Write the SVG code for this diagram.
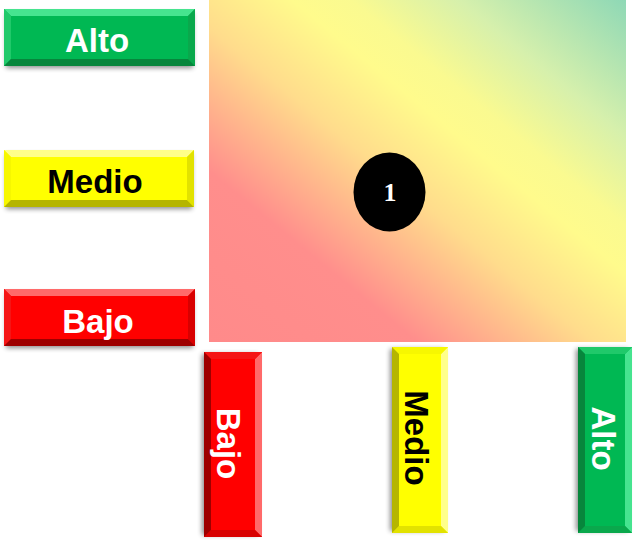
<svg xmlns="http://www.w3.org/2000/svg" width="634" height="544" viewBox="0 0 634 544">
<defs>
<linearGradient id="bg" x1="0" y1="1" x2="1" y2="0">
<stop offset="0" stop-color="#ff8a8a"/>
<stop offset="0.25" stop-color="#ff8e8c"/>
<stop offset="0.46" stop-color="#ffdc8c"/>
<stop offset="0.6" stop-color="#fffb8c"/>
<stop offset="0.67" stop-color="#fafa90"/>
<stop offset="0.8" stop-color="#d6f0ac"/>
<stop offset="1" stop-color="#8ed8b6"/>
</linearGradient>
<filter id="sh" x="-10%" y="-20%" width="120%" height="150%">
<feGaussianBlur stdDeviation="2.5"/>
</filter>
</defs>
<style>
.lbl{font-family:"Liberation Sans",Arial,sans-serif;font-weight:bold;font-size:33px;text-anchor:middle}
.w{fill:#ffffff}
.k{fill:#000000}
.shadow{fill:#000;opacity:0.45;filter:url(#sh)}
.g0{fill:#00b853}.g1{fill:#46e48f}.g2{fill:#20c96a}.g3{fill:#0aa84c}.g4{fill:#07863c}
.y0{fill:#ffff00}.y1{fill:#ffff8a}.y2{fill:#f7f700}.y3{fill:#e2e200}.y4{fill:#b5b500}
.r0{fill:#ff0000}.r1{fill:#ff6a6a}.r2{fill:#f51515}.r3{fill:#d80000}.r4{fill:#9e0000}
</style>

<rect x="209" y="0" width="417" height="342" fill="url(#bg)"/>

<g id="point-1">
<ellipse cx="389.5" cy="192" rx="36" ry="39.5" fill="#000"/>
<text x="390" y="201" style="font-family:'Liberation Serif','Times New Roman',serif;font-weight:bold;font-size:26px;text-anchor:middle" fill="#fff">1</text>
</g>

<g id="y-alto" transform="translate(4,9)">
<rect class="shadow" x="2" y="4" width="187" height="55"/>
<rect class="g0" width="191" height="57"/>
<polygon class="g1" points="0,0 191,0 184,7 7,7"/>
<polygon class="g2" points="0,0 7,7 7,50 0,57"/>
<polygon class="g3" points="191,0 191,57 184,50 184,7"/>
<polygon class="g4" points="0,57 7,50 184,50 191,57"/>
<text class="lbl w" x="93" y="43">Alto</text>
</g>

<g id="y-medio" transform="translate(4,150)">
<rect class="shadow" x="2" y="4" width="186" height="55"/>
<rect class="y0" width="190" height="57"/>
<polygon class="y1" points="0,0 190,0 183,7 7,7"/>
<polygon class="y2" points="0,0 7,7 7,50 0,57"/>
<polygon class="y3" points="190,0 190,57 183,50 183,7"/>
<polygon class="y4" points="0,57 7,50 183,50 190,57"/>
<text class="lbl k" x="91" y="43">Medio</text>
</g>

<g id="y-bajo" transform="translate(4,289)">
<rect class="shadow" x="2" y="4" width="187" height="55"/>
<rect class="r0" width="191" height="57"/>
<polygon class="r1" points="0,0 191,0 184,7 7,7"/>
<polygon class="r2" points="0,0 7,7 7,50 0,57"/>
<polygon class="r3" points="191,0 191,57 184,50 184,7"/>
<polygon class="r4" points="0,57 7,50 184,50 191,57"/>
<text class="lbl w" x="94" y="44">Bajo</text>
</g>

<g id="x-bajo" transform="translate(262,352) rotate(90)">
<rect class="shadow" x="2" y="4" width="181" height="56"/>
<rect class="r0" width="185" height="58"/>
<polygon class="r1" points="0,0 185,0 178,7 7,7"/>
<polygon class="r2" points="0,0 7,7 7,51 0,58"/>
<polygon class="r3" points="185,0 185,58 178,51 178,7"/>
<polygon class="r4" points="0,58 7,51 178,51 185,58"/>
<text class="lbl w" x="91.5" y="45">Bajo</text>
</g>

<g id="x-medio" transform="translate(448,347) rotate(90)">
<rect class="shadow" x="2" y="4" width="182" height="54"/>
<rect class="y0" width="186" height="56"/>
<polygon class="y1" points="0,0 186,0 179,7 7,7"/>
<polygon class="y2" points="0,0 7,7 7,49 0,56"/>
<polygon class="y3" points="186,0 186,56 179,49 179,7"/>
<polygon class="y4" points="0,56 7,49 179,49 186,56"/>
<text class="lbl k" x="91" y="43">Medio</text>
</g>

<g id="x-alto" transform="translate(632,347) rotate(90)">
<rect class="shadow" x="2" y="4" width="182" height="52"/>
<rect class="g0" width="186" height="54"/>
<polygon class="g1" points="0,0 186,0 179,7 7,7"/>
<polygon class="g2" points="0,0 7,7 7,47 0,54"/>
<polygon class="g3" points="186,0 186,54 179,47 179,7"/>
<polygon class="g4" points="0,54 7,47 179,47 186,54"/>
<text class="lbl w" x="91.5" y="40">Alto</text>
</g>
</svg>
